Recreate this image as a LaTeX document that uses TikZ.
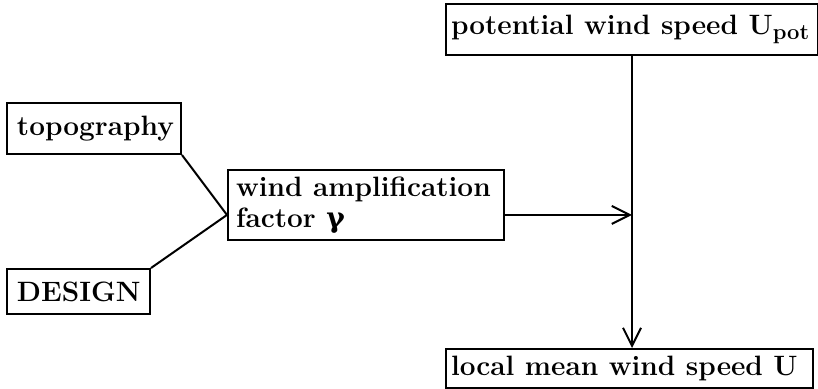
\documentclass[tikz,border=0pt]{standalone}
\usepackage{fontspec}
\usetikzlibrary{arrows.meta,positioning}
\newfontfamily\greekfont{DejaVu Serif}

\begin{document}
\begin{tikzpicture}[x=0.5pt,y=-0.5pt,
  box/.style={draw, line width=1pt, anchor=north west, align=flush left, inner xsep=5pt,
    font=\bfseries\fontsize{14}{15.5}\selectfont},
  link/.style={line width=1pt},
  flow/.style={line width=1pt, -{Straight Barb[length=9pt,width=9pt,line width=1pt]}}]

\useasboundingbox (0,0) rectangle (818,388);

% inputs
\node[box, text width=77pt, minimum height=25.5pt] (topo) at (6,102) {topography};
\node[box, text width=61.5pt, minimum height=22.5pt] (design) at (6,268) {DESIGN};

% amplification
\node[box, inner xsep=4pt, text width=130pt, minimum height=33pt] (wind) at (227,169)
  {wind amplification\\factor {\greekfont γ}};

% wind speeds
\node[box, inner xsep=2.5pt, text width=181pt, minimum height=25.5pt] (pot) at (445,3)
  {potential wind speed U\raisebox{-0.4ex}{\fontsize{11}{11}\selectfont pot}};
\node[box, inner xsep=2.5pt, text width=178.5pt, minimum height=19.5pt] (local) at (445,348)
  {local mean wind speed U};

\coordinate (join) at ([yshift=-5pt]wind.west);
\coordinate (out) at ([yshift=-5pt]wind.east);

\draw[link] (topo.south east) -- (join);
\draw[link] (design.north east) -- (join);

\draw[flow] (out) -- (out -| pot.south);
\draw[flow] (pot.south) -- (pot.south |- local.north);

\end{tikzpicture}
\end{document}
